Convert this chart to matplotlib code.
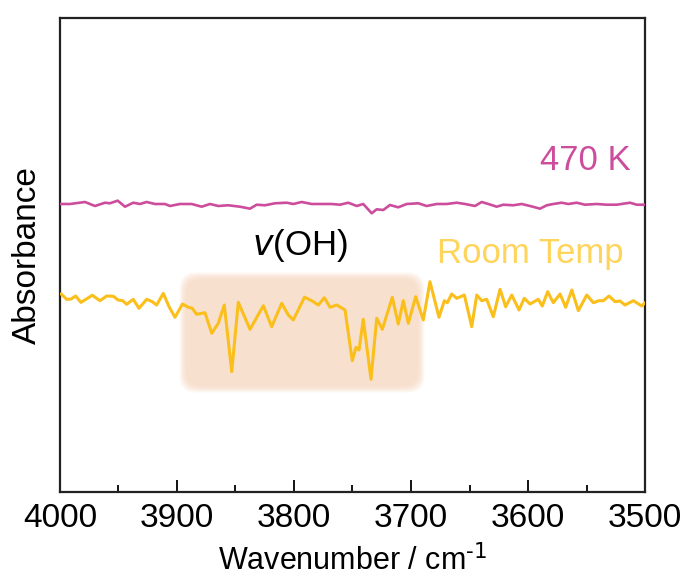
import numpy as np
import matplotlib
matplotlib.use('Agg')
import matplotlib.pyplot as plt
from matplotlib.patches import FancyBboxPatch

plt.rcParams['font.family'] = ['Liberation Sans', 'DejaVu Sans']

# espectro a 470 K (unidades arbitrarias)
wn_470 = [4000, 3991.5, 3978.6, 3970.1, 3961.5, 3957.3, 3950.7, 3944.4, 3937.4, 3931.6,
          3925.9, 3918.8, 3910.3, 3906.0, 3897.4, 3887.4, 3878.9, 3871.8, 3864.7, 3856.2,
          3846.2, 3837.6, 3831.9, 3824.8, 3816.2, 3806.2, 3800.6, 3793.4, 3784.9, 3776.3,
          3767.8, 3760.7, 3753.6, 3746.4, 3740.8, 3733.6, 3729.3, 3723.7, 3718.0, 3710.9,
          3703.7, 3693.8, 3686.6, 3678.0, 3669.5, 3660.9, 3653.8, 3645.3, 3639.6, 3633.9,
          3626.8, 3621.1, 3612.6, 3605.4, 3598.3, 3589.7, 3584.0, 3578.4, 3571.2, 3565.6,
          3558.4, 3551.3, 3541.3, 3532.7, 3524.2, 3512.8, 3507.1, 3500]
abs_470 = [60.76, 60.76, 61.18, 60.34, 61.03, 60.91, 61.46, 60.19, 61.03, 60.76,
           61.18, 60.76, 60.76, 60.34, 60.76, 60.76, 60.19, 60.76, 60.34, 60.49,
           60.19, 59.77, 60.61, 60.49, 60.91, 61.03, 60.76, 61.18, 60.76, 60.76,
           60.76, 60.61, 61.03, 60.34, 60.76, 58.80, 59.64, 59.49, 60.55, 60.06,
           60.76, 60.91, 60.34, 60.76, 60.76, 61.03, 60.76, 60.34, 61.18, 60.76,
           60.19, 60.61, 60.49, 60.76, 60.34, 59.77, 60.49, 60.76, 61.03, 60.76,
           61.03, 60.61, 60.76, 60.61, 60.61, 61.03, 60.61, 60.61]

# espectro a temperatura ambiente
wn_rt = [3999.1, 3994.3, 3990.6, 3986.6, 3982.1, 3972.4, 3965.8, 3960.1, 3954.4, 3950.2,
         3946.4, 3943.0, 3937.4, 3932.5, 3925.9, 3921.1, 3917.4, 3911.7, 3906.8, 3901.7,
         3895.3, 3890.3, 3886.9, 3883.2, 3876.1, 3870.3, 3864.7, 3859.6, 3853.2, 3847.6,
         3837.6, 3826.2, 3819.1, 3810.5, 3804.9, 3800.6, 3791.0, 3784.9, 3779.2, 3774.1,
         3769.2, 3763.5, 3756.4, 3750.2, 3747.0, 3744.4, 3740.8, 3734.2, 3729.3, 3724.5,
         3716.0, 3710.9, 3706.6, 3702.3, 3696.0, 3689.5, 3683.8, 3676.1, 3671.5, 3669.0,
         3665.2, 3660.9, 3654.4, 3648.1, 3643.8, 3639.6, 3635.3, 3629.7, 3623.9, 3619.1,
         3613.9, 3607.7, 3603.2, 3598.3, 3591.2, 3587.8, 3583.2, 3578.4, 3572.6, 3567.8,
         3562.6, 3557.0, 3549.8, 3544.2, 3539.3, 3535.6, 3530.8, 3525.6, 3521.4, 3517.1,
         3510.0, 3502.8, 3500.0]
abs_rt = [41.80, 40.65, 40.70, 41.35, 40.00, 41.50, 40.36, 41.35, 41.29, 40.50,
          40.36, 39.60, 40.65, 38.75, 40.65, 40.15, 39.45, 41.90, 39.10, 36.85,
          39.66, 38.97, 38.75, 37.49, 37.83, 33.48, 35.60, 39.45, 25.38, 40.02,
          34.32, 39.30, 34.87, 39.81, 37.34, 36.29, 41.10, 40.36, 39.45, 40.99,
          38.97, 39.45, 38.40, 27.70, 30.53, 29.96, 36.43, 23.78, 36.65, 34.32,
          41.08, 35.44, 40.36, 35.59, 41.20, 36.29, 44.37, 36.86, 40.36, 39.94,
          41.77, 40.86, 41.56, 34.87, 41.56, 40.36, 40.65, 36.98, 42.76, 39.09,
          41.56, 38.40, 40.86, 39.66, 40.65, 39.24, 42.26, 39.94, 41.77, 38.97,
          42.62, 38.25, 41.56, 39.94, 40.36, 40.36, 41.35, 40.15, 40.30, 39.45,
          40.36, 39.24, 39.94]

# zona resaltada v(OH)
caja_wn = (3690.6, 3895.7)
caja_abs = (21.5, 45.8)

fig = plt.figure(figsize=(6.87, 5.80), dpi=100)
ax = fig.add_axes([0.0873, 0.1517, 0.8516, 0.8173])

# caja sombreada con bordes difusos (varias capas)
x0, x1 = caja_wn
y0, y1 = caja_abs
capas = 6
for i in range(capas):
    d = (capas - 1 - i) * 1.0 - 2.0
    caja = FancyBboxPatch((x0 + d, y0 + d * 0.25), (x1 - x0) - 2 * d, (y1 - y0) - 2 * d * 0.25,
                          boxstyle='round,pad=0,rounding_size=14', mutation_aspect=0.25,
                          facecolor='#f7d0b4', edgecolor='none', alpha=0.15, zorder=1)
    ax.add_patch(caja)

ax.plot(wn_470, abs_470, color='#cc4d9c', lw=1.9, solid_joinstyle='round',
        solid_capstyle='round', zorder=3)
ax.plot(wn_rt, abs_rt, color='#fbbf1c', lw=2.2, solid_joinstyle='round',
        solid_capstyle='round', zorder=3)

ax.text(3551, 70, '470 K', color='#cc4d9c', fontsize=25, ha='center', va='center')
ax.text(3598, 50.4, 'Room Temp', color='#ffd45a', fontsize=25, ha='center', va='center')
ax.text(3795, 52, r'$\it{v}$(OH)', color='black', fontsize=25, ha='center', va='center')

ax.set_xlim(4000, 3500)
ax.set_ylim(0, 100)
ax.set_xticks([4000, 3900, 3800, 3700, 3600, 3500])
ax.set_xticks([3950, 3850, 3750, 3650, 3550], minor=True)
ax.set_yticks([])
ax.tick_params(axis='x', which='major', direction='in', length=9, width=1.3, labelsize=24, pad=8)
ax.tick_params(axis='x', which='minor', direction='in', length=5, width=1.3)
for s in ax.spines.values():
    s.set_linewidth(1.6)
    s.set_color('#222222')

ax.set_xlabel(r'Wavenumber / cm$^{\text{-}1}$', fontsize=22, labelpad=8)
ax.set_ylabel('Absorbance', fontsize=24, labelpad=12)

fig.savefig('out.png', dpi=100)
